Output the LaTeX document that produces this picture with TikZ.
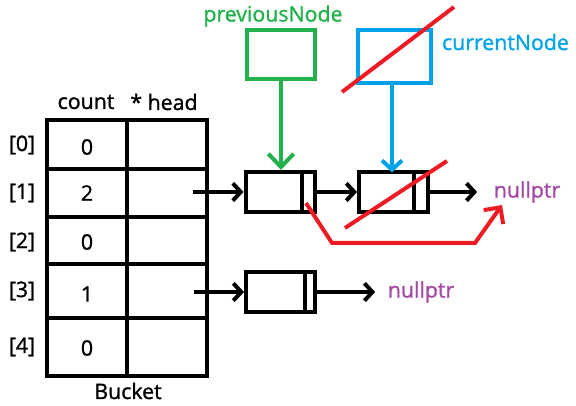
\documentclass[tikz,border=0pt]{standalone}
\usepackage{fontspec}
\setmainfont{Open Sans}[FakeBold=1.2]
\usetikzlibrary{arrows.meta}
\definecolor{pgreen}{RGB}{34,177,76}
\definecolor{pblue}{RGB}{0,162,232}
\definecolor{pred}{RGB}{237,28,36}
\definecolor{ppurple}{RGB}{163,73,164}
\begin{document}
\begin{tikzpicture}[x=0.75pt, y=-0.75pt, line width=3pt,
		every node/.style={font=\fontsize{16}{19}\selectfont},
		listnode/.style={draw, inner sep=0pt, minimum width=51.75pt, minimum height=30pt},
		ptrbox/.style={draw, inner sep=0pt},
		nulltext/.style={text=ppurple, inner sep=0pt},
		link/.style={-{Straight Barb[length=6pt,width=13pt]}},
		bigtip/.style={-{Straight Barb[length=10pt,width=19pt]}}]
			\useasboundingbox (0,0) rectangle (576,406);
			
			% bucket table
			\draw (47,120) rectangle (207,376);
			\draw (127,120) -- (127,376);
			\foreach \y in {169,217,264,318}
				\draw (47,\y) -- (207,\y);
			
			\node (hc) at (86,102) {count};
			\node (hh) at (164,102) {* head};
			\node (bk) at (128,391) {Bucket};
			
			\node (i0) at (22,145) {[0]};
			\node (i1) at (22,193) {[1]};
			\node (i2) at (22,242) {[2]};
			\node (i3) at (22,291) {[3]};
			\node (i4) at (22,347) {[4]};
			
			\node (c0) at (87,147) {0};
			\node (c1) at (87,193) {2};
			\node (c2) at (87,242) {0};
			\node (c3) at (87,294) {1};
			\node (c4) at (87,348) {0};
			
			\coordinate (h1) at (193,192);
			\coordinate (h3) at (194,292);
			
			% list nodes
			\node[listnode] (a1) at (280,192) {};
			\node[listnode] (a2) at (393.5,192) {};
			\node[listnode] (a3) at (280.5,292) {};
			\draw ([xshift=-11pt]a1.north east) -- ([xshift=-11pt]a1.south east);
			\draw ([xshift=-12pt]a2.north east) -- ([xshift=-12pt]a2.south east);
			\draw ([xshift=-9pt]a3.north east) -- ([xshift=-9pt]a3.south east);
			
			\node[nulltext] (n1) at (527,192) {nullptr};
			\node[nulltext] (n3) at (421,292) {nullptr};
			
			\draw[link] (h1) -- (a1.west);
			\draw[link] (a1.east) -- (a2.west);
			\draw[link, shorten >=11pt] (a2.east) -- (n1.west);
			\draw[link] (h3) -- (a3.west);
			\draw[link, shorten >=8pt] (a3.east) -- (n3.west);
			
			% pointers
			\node[ptrbox, draw=pgreen, minimum width=51pt, minimum height=37pt] (pv) at (281,54.5) {};
			\node[ptrbox, draw=pblue, minimum width=55pt, minimum height=40pt] (cu) at (394.5,56.5) {};
			\node[text=pgreen] (pvl) at (273,16) {previousNode};
			\node[text=pblue] (cul) at (505.5,42) {currentNode};
			\draw[bigtip, pgreen] (pv.south) -- (pv.south |- a1.north);
			\draw[link, pblue, -{Straight Barb[length=7pt,width=15pt]}] (392,83) -- (392,172.5);
			
			% removal
			\draw[pred] (342,92) -- (454,7);
			\draw[pred] (345,228) -- (447,161);
			\coordinate (r0) at (306,203);
			\coordinate (r1) at (332,243);
			\coordinate (r2) at (475,243);
			\coordinate (r3) at (502,205);
			\draw[pred, -{Straight Barb[length=9pt,width=18pt]}] (r0) -- (r1) -- (r2) -- (r3);
		\end{tikzpicture}
\end{document}
